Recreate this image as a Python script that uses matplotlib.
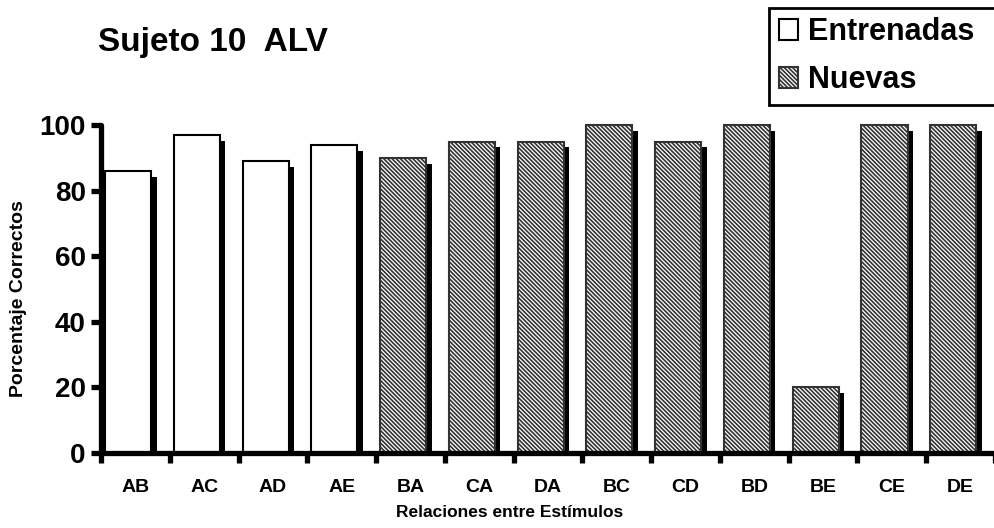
import matplotlib.pyplot as plt
from matplotlib.patches import Patch

plt.rcParams['font.family'] = ['Liberation Sans', 'DejaVu Sans']
plt.rcParams['font.weight'] = 'bold'
plt.rcParams['hatch.linewidth'] = 1.2

categories = ['AB', 'AC', 'AD', 'AE', 'BA', 'CA', 'DA', 'BC', 'CD', 'BD', 'BE', 'CE', 'DE']
values = [86, 97, 89, 94, 90, 95, 95, 100, 95, 100, 20, 100, 100]
trained = [True, True, True, True, False, False, False, False, False, False, False, False, False]
yticks = [0, 20, 40, 60, 80, 100]

fig = plt.figure(figsize=(9.94, 5.28), dpi=100)
ax = fig.add_axes([0.1016, 0.142, 0.8994, 0.621])

x = range(len(categories))
offset = -0.107
width = 0.67

for i, (v, tr) in enumerate(zip(values, trained)):
    # shadow
    ax.bar(i + offset + 0.08, v - 1.8, width=width, color='black', zorder=1, clip_on=False)
    if tr:
        ax.bar(i + offset, v, width=width, facecolor='white', edgecolor='black',
               linewidth=1.5, zorder=2, clip_on=False)
    else:
        ax.bar(i + offset, v, width=width, facecolor='white', edgecolor='#333333',
               hatch='\\\\\\\\\\\\\\\\', linewidth=1.5, zorder=2, clip_on=False)

ax.set_xlim(-0.5, len(categories) - 0.5)
ax.set_ylim(0, 100)

for s in ['top', 'right']:
    ax.spines[s].set_visible(False)
for s in ['left', 'bottom']:
    ax.spines[s].set_linewidth(3.8)
    ax.spines[s].set_capstyle('round')
    ax.spines[s].set_zorder(5)

ax.set_yticks(yticks)
ax.set_yticklabels([str(t) for t in yticks], fontsize=20, fontweight='bold')
ax.tick_params(axis='y', length=7, width=3.8, pad=4)

ax.set_xticks([i - 0.5 for i in range(len(categories) + 1)])
ax.set_xticklabels([])
ax.tick_params(axis='x', which='major', length=7, width=3.8)
ax.set_xticks(list(x), minor=True)
ax.set_xticklabels(categories, minor=True, fontsize=14, fontweight='bold')
ax.tick_params(axis='x', which='minor', length=0, pad=19)

fig.text(0.513, 0.03, 'Relaciones entre Estímulos', ha='center', va='center',
         fontsize=12.5, fontweight='bold')
fig.text(0.019, 0.434, 'Porcentaje Correctos', ha='center', va='center',
         rotation=90, fontsize=14, fontweight='bold')
fig.text(0.099, 0.92, 'Sujeto 10  ALV', ha='left', va='center',
         fontsize=24, fontweight='bold')

handles = [Patch(facecolor='white', edgecolor='black', linewidth=1.5, label='Entrenadas'),
           Patch(facecolor='white', edgecolor='#333333', hatch='\\\\\\\\\\\\\\\\',
                 linewidth=1.5, label='Nuevas')]
leg = fig.legend(handles=handles, loc='upper left', bbox_to_anchor=(0.774, 0.0, 0.3, 0.985),
                 mode='expand', prop={'size': 22, 'weight': 'bold'},
                 handlelength=0.65, handleheight=0.65,
                 handletextpad=0.3, labelspacing=0.6, borderpad=0.3, borderaxespad=0,
                 fancybox=False, framealpha=1, edgecolor='black')
leg.get_frame().set_linewidth(2)

fig.savefig('out.png', dpi=100)
